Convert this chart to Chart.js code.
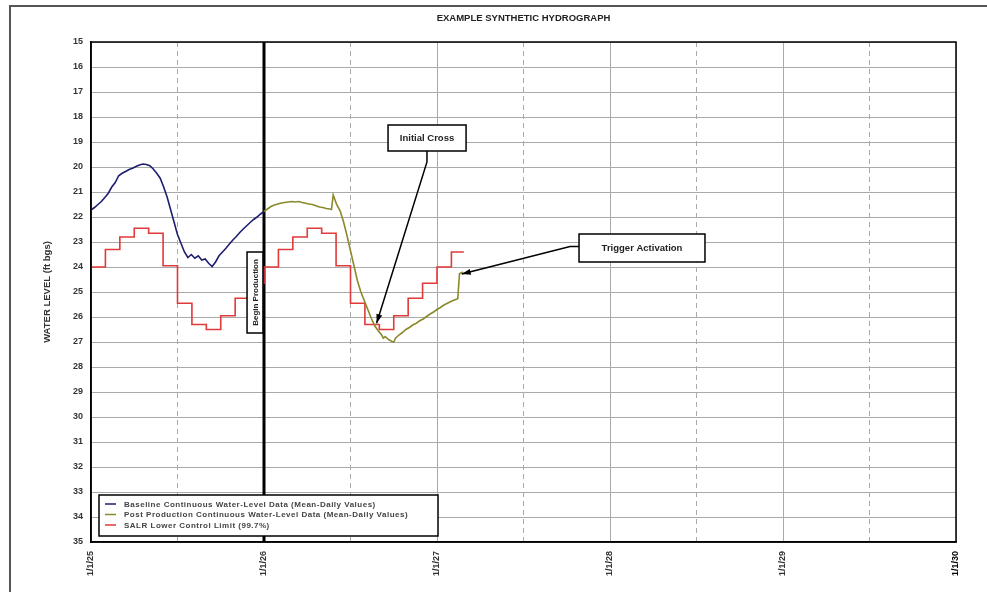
<!DOCTYPE html>
<html>
<head>
<meta charset="utf-8">
<title>Example Synthetic Hydrograph</title>
<script src="https://cdn.jsdelivr.net/npm/chart.js@4/dist/chart.umd.min.js"></script>
<style>
  html, body { margin: 0; padding: 0; background: #fff; overflow: hidden; }
  #wrap { position: relative; width: 987px; height: 592px; }
</style>
</head>
<body>
<div id="wrap"><canvas id="hydro" width="987" height="592"></canvas></div>
<script>
// ---- Data (x = years after 1/1/25, y = water level in ft bgs) ----
const yearLabels = ['1/1/25', '1/1/26', '1/1/27', '1/1/28', '1/1/29', '1/1/30'];

const baselineYears = [0.00, 0.02, 0.04, 0.06, 0.08, 0.10, 0.12, 0.14, 0.16, 0.18,
  0.20, 0.22, 0.24, 0.26, 0.28, 0.30, 0.32, 0.34, 0.36, 0.38,
  0.40, 0.42, 0.44, 0.46, 0.48, 0.50, 0.52, 0.54, 0.56, 0.58,
  0.60, 0.62, 0.64, 0.66, 0.68, 0.70, 0.72, 0.74, 0.76, 0.78,
  0.80, 0.82, 0.84, 0.86, 0.88, 0.90, 0.92, 0.94, 0.96, 0.98, 1.00];
const baselineLevel = [21.72, 21.62, 21.50, 21.38, 21.22, 21.05, 20.80, 20.62, 20.35, 20.25,
  20.18, 20.10, 20.05, 19.98, 19.92, 19.88, 19.90, 19.95, 20.08, 20.25,
  20.45, 20.80, 21.20, 21.70, 22.20, 22.70, 23.05, 23.40, 23.62, 23.50,
  23.65, 23.55, 23.72, 23.68, 23.85, 23.98, 23.80, 23.55, 23.40, 23.25,
  23.08, 22.92, 22.78, 22.62, 22.48, 22.35, 22.22, 22.10, 22.00, 21.88, 21.78];

const postYears = [1.00, 1.02, 1.04, 1.06, 1.08, 1.10, 1.12, 1.14, 1.16, 1.18,
  1.20, 1.22, 1.24, 1.26, 1.28, 1.30, 1.32, 1.34, 1.36, 1.38,
  1.39, 1.40, 1.42, 1.44, 1.46, 1.48, 1.50, 1.52, 1.54, 1.56,
  1.58, 1.60, 1.62, 1.64, 1.66, 1.68, 1.69, 1.70, 1.72, 1.74,
  1.75, 1.76, 1.78, 1.80, 1.82, 1.84, 1.86, 1.88, 1.90, 1.92,
  1.94, 1.96, 1.98, 2.00, 2.02, 2.04, 2.06, 2.08, 2.10, 2.12,
  2.13, 2.15];
const postLevel = [21.78, 21.68, 21.58, 21.52, 21.48, 21.44, 21.42, 21.40, 21.38, 21.40,
  21.38, 21.42, 21.45, 21.48, 21.50, 21.55, 21.60, 21.62, 21.66, 21.68,
  21.70, 21.12, 21.50, 21.75, 22.20, 22.75, 23.35, 23.95, 24.55, 25.00,
  25.35, 25.70, 26.05, 26.35, 26.55, 26.72, 26.85, 26.78, 26.90, 26.98,
  27.00, 26.85, 26.72, 26.62, 26.50, 26.42, 26.32, 26.25, 26.15, 26.08,
  25.98, 25.88, 25.80, 25.70, 25.62, 25.52, 25.45, 25.38, 25.32, 25.27,
  24.27, 24.20];

// Lower control limit, one value per month (month index counted from 1/1/25)
const limitMonth = [0, 1, 2, 3, 4, 5, 6, 7, 8, 9, 10, 11,
  12, 13, 14, 15, 16, 17, 18, 19, 20, 21, 22, 23,
  24, 25, 25.86];
const limitLevel = [24.00, 23.30, 22.80, 22.45, 22.65, 23.95, 25.45, 26.30, 26.50, 25.95, 25.25, 24.65,
  24.00, 23.30, 22.80, 22.45, 22.65, 23.95, 25.45, 26.30, 26.50, 25.95, 25.25, 24.65,
  24.00, 23.40, 23.40];

const productionStart = [1, 1];
const productionSpan = [15, 35];

const seriesNames = [
  'Baseline Continuous Water-Level Data (Mean-Daily Values)',
  'Post Production Continuous Water-Level Data (Mean-Daily Values)',
  'SALR Lower Control Limit (99.7%)'
];
const seriesColors = ['#1e1e70', '#8a8a2c', '#e03a3a'];

// ---- Callouts, placed in data coordinates ----
const callouts = {
  begin:   { text: 'Begin Production', x0: 0.902, x1: 0.994, y0: 23.40, y1: 26.64 },
  cross:   { text: 'Initial Cross', x0: 1.717, x1: 2.168, y0: 18.32, y1: 19.36,
             path: [[1.942, 19.36], [1.942, 19.80], [1.651, 26.25]] },
  trigger: { text: 'Trigger Activation', x0: 2.821, x1: 3.549, y0: 22.68, y1: 23.80,
             path: [[2.821, 23.18], [2.769, 23.18], [2.143, 24.28]] }
};

const toXY = (xs, ys) => xs.map((x, i) => ({ x: x, y: ys[i] }));
const FONT = 'Liberation Sans, Arial, sans-serif';

// White page with the scanned-sheet edge along the top and left
const pagePlugin = {
  id: 'page',
  beforeDraw(chart) {
    const c = chart.ctx;
    c.save();
    c.fillStyle = '#fff';
    c.fillRect(0, 0, chart.width, chart.height);
    c.strokeStyle = '#555';
    c.lineWidth = 2;
    c.beginPath();
    c.moveTo(chart.width, 6);
    c.lineTo(10, 6);
    c.lineTo(10, chart.height);
    c.stroke();
    c.restore();
  }
};

function drawArrow(c, pts) {
  c.beginPath();
  c.moveTo(pts[0][0], pts[0][1]);
  for (let i = 1; i < pts.length; i++) c.lineTo(pts[i][0], pts[i][1]);
  c.stroke();
  const [x1, y1] = pts[pts.length - 2];
  const [x2, y2] = pts[pts.length - 1];
  const a = Math.atan2(y2 - y1, x2 - x1);
  const L = 9, W = 3;
  c.beginPath();
  c.moveTo(x2, y2);
  c.lineTo(x2 - L * Math.cos(a) + W * Math.sin(a), y2 - L * Math.sin(a) - W * Math.cos(a));
  c.lineTo(x2 - L * Math.cos(a) - W * Math.sin(a), y2 - L * Math.sin(a) + W * Math.cos(a));
  c.closePath();
  c.fill();
}

// Plot frame, in-plot legend and callout boxes
const overlayPlugin = {
  id: 'overlay',
  afterDraw(chart) {
    const c = chart.ctx;
    const xs = chart.scales.x, ys = chart.scales.y;
    const a = chart.chartArea;
    const px = v => xs.getPixelForValue(v);
    const py = v => ys.getPixelForValue(v);
    c.save();

    // frame around plot
    c.strokeStyle = '#000';
    c.lineWidth = 1.5;
    c.strokeRect(a.left, a.top, a.right - a.left, a.bottom - a.top);

    // legend box
    const lx0 = 99, ly0 = 495, lx1 = 438, ly1 = 536;
    c.fillStyle = '#fff';
    c.fillRect(lx0, ly0, lx1 - lx0, ly1 - ly0);
    c.strokeStyle = '#000';
    c.lineWidth = 1.5;
    c.strokeRect(lx0, ly0, lx1 - lx0, ly1 - ly0);
    c.font = 'bold 8px ' + FONT;
    c.textBaseline = 'middle';
    c.textAlign = 'left';
    if ('letterSpacing' in c) c.letterSpacing = '0.5px';
    seriesNames.forEach((name, i) => {
      const y = 504 + i * 10.5;
      c.strokeStyle = seriesColors[i];
      c.lineWidth = 1.5;
      c.beginPath();
      c.moveTo(105, y);
      c.lineTo(116, y);
      c.stroke();
      c.fillStyle = '#444';
      c.fillText(name, 124, y + 0.5);
    });
    if ('letterSpacing' in c) c.letterSpacing = '0px';

    // callout boxes
    c.lineWidth = 1.5;
    c.strokeStyle = '#000';
    c.fillStyle = '#000';
    ['cross', 'trigger'].forEach(k => {
      const o = callouts[k];
      drawArrow(c, o.path.map(p => [px(p[0]), py(p[1])]));
    });
    Object.keys(callouts).forEach(k => {
      const o = callouts[k];
      const x0 = px(o.x0), x1 = px(o.x1), y0 = py(o.y0), y1 = py(o.y1);
      c.fillStyle = '#fff';
      c.fillRect(x0, y0, x1 - x0, y1 - y0);
      c.strokeStyle = '#000';
      c.lineWidth = 1.5;
      c.strokeRect(x0, y0, x1 - x0, y1 - y0);
      c.fillStyle = '#222';
      c.textAlign = 'center';
      c.textBaseline = 'middle';
      if (k === 'begin') {
        c.save();
        c.translate((x0 + x1) / 2, (y0 + y1) / 2);
        c.rotate(-Math.PI / 2);
        c.font = 'bold 8px ' + FONT;
        c.fillText(o.text, 0, 0.5);
        c.restore();
      } else {
        c.font = 'bold 9.5px ' + FONT;
        c.fillText(o.text, (x0 + x1) / 2, (y0 + y1) / 2 + 0.5);
      }
    });
    c.restore();
  }
};

const lineStyle = { pointRadius: 0, borderWidth: 1.6, tension: 0, fill: false };

new Chart(document.getElementById('hydro'), {
  type: 'line',
  data: {
    datasets: [
      Object.assign({ label: seriesNames[0], data: toXY(baselineYears, baselineLevel), borderColor: seriesColors[0] }, lineStyle),
      Object.assign({ label: seriesNames[1], data: toXY(postYears, postLevel), borderColor: seriesColors[1] }, lineStyle),
      Object.assign({ label: seriesNames[2], data: toXY(limitMonth.map(m => m / 12), limitLevel), borderColor: seriesColors[2], stepped: 'before' }, lineStyle),
      { label: 'Begin Production', data: toXY(productionStart, productionSpan), borderColor: '#000', borderWidth: 3, pointRadius: 0 }
    ]
  },
  options: {
    responsive: false,
    animation: false,
    devicePixelRatio: 1,
    layout: { padding: { left: 0, right: 31, top: 0, bottom: 0 } },
    plugins: {
      legend: { display: false },
      tooltip: { enabled: false },
      title: {
        display: true,
        fullSize: false,
        text: 'EXAMPLE SYNTHETIC HYDROGRAPH',
        color: '#222',
        font: { family: FONT, size: 9.5, weight: 'bold' },
        padding: { top: 13, bottom: 17.6 }
      }
    },
    scales: {
      x: {
        type: 'linear',
        min: 0,
        max: 5,
        afterFit(s) { s.height = 50; },
        ticks: {
          stepSize: 0.5,
          autoSkip: false,
          minRotation: 90,
          maxRotation: 90,
          padding: 9,
          color: ctx => (ctx.tick && ctx.tick.value === 5) ? '#000' : '#333',
          font: { family: FONT, size: 9, weight: 'bold' },
          callback: v => Number.isInteger(v) ? yearLabels[v] : ''
        },
        grid: { color: '#aaa', lineWidth: 1, drawTicks: false },
        border: {
          color: '#000',
          width: 1.5,
          dash: ctx => (ctx.tick && !Number.isInteger(ctx.tick.value)) ? [5, 4] : []
        }
      },
      y: {
        type: 'linear',
        reverse: true,
        min: 15,
        max: 35,
        afterFit(s) { s.width = 91; },
        ticks: {
          stepSize: 1,
          padding: 8,
          color: '#333',
          font: { family: FONT, size: 9, weight: 'bold' }
        },
        grid: { color: '#aaa', lineWidth: 1, drawTicks: false },
        border: { color: '#000', width: 1.5 },
        title: {
          display: true,
          text: 'WATER LEVEL (ft bgs)',
          color: '#333',
          font: { family: FONT, size: 9.5, weight: 'bold' },
          padding: { top: 42, bottom: 0 }
        }
      }
    }
  },
  plugins: [pagePlugin, overlayPlugin]
});
</script>
</body>
</html>
